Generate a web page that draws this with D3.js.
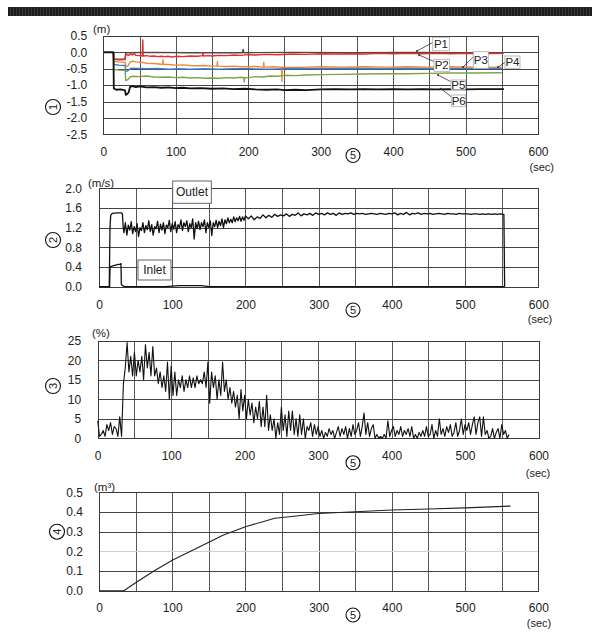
<!DOCTYPE html>
<html><head><meta charset="utf-8">
<script src="https://cdn.jsdelivr.net/npm/d3@7"></script>
<style>
body{margin:0;background:#fff}
svg{display:block}
text{font-family:"Liberation Sans",Arial,Helvetica,sans-serif;fill:#222}
</style>
</head><body>
<svg id="c" width="592" height="635"></svg>
<script>
// ---------- data ----------
// shared time ticks (sec)
const xTickLabels = [0, 100, 200, 300, 400, 500, 600];

// (1) water level at gauges P1..P6, [t, m]
const levelP1 = [[0,0],[14,0],[14.5,-0.2],[30,-0.21],[31,-0.01],[60,0],[120,-0.01],[192,-0.01],[193,0.09],[194,-0.01],[260,0],[340,-0.01],[420,0],[500,-0.01],[553,-0.01]];
const levelP2 = [[0,0],[14,0],[14.5,-0.21],[22,-0.23],[30,-0.22],[31,-0.06],[35,-0.09],[38,-0.04],[40,-0.08],[43,-0.03],[45,-0.09],[50,-0.1],[54,-0.11],[54.5,0.38],[55,-0.11],[60,-0.1],[65,-0.12],[70,-0.11],[75,-0.13],[80,-0.12],[85,-0.13],[90,-0.12],[95,-0.14],[100,-0.12],[110,-0.13],[120,-0.11],[130,-0.12],[137,-0.1],[137.5,0.0],[138,-0.11],[145,-0.1],[150,-0.11],[160,-0.09],[170,-0.1],[180,-0.08],[190,-0.09],[200,-0.07],[210,-0.08],[225,-0.06],[240,-0.07],[260,-0.05],[280,-0.06],[300,-0.04],[320,-0.05],[340,-0.04],[360,-0.05],[380,-0.03],[400,-0.04],[420,-0.03],[440,-0.04],[460,-0.03],[480,-0.04],[500,-0.03],[520,-0.04],[552,-0.03]];
const levelP3 = [[0,0],[14,0],[14.5,-0.27],[22,-0.29],[30,-0.3],[31,-0.43],[34,-0.41],[37,-0.3],[40,-0.27],[45,-0.29],[50,-0.3],[55,-0.31],[60,-0.33],[70,-0.34],[80,-0.36],[82,-0.36],[82.5,-0.22],[83,-0.36],[90,-0.37],[100,-0.39],[110,-0.38],[120,-0.4],[130,-0.41],[140,-0.4],[150,-0.42],[157,-0.42],[157.5,-0.28],[158,-0.42],[170,-0.43],[180,-0.42],[190,-0.44],[200,-0.44],[210,-0.43],[221,-0.45],[221.5,-0.3],[222,-0.45],[235,-0.44],[246,-0.45],[246.5,-0.88],[247,-0.45],[260,-0.46],[280,-0.45],[300,-0.44],[330,-0.45],[360,-0.44],[390,-0.45],[420,-0.44],[450,-0.45],[480,-0.44],[510,-0.45],[550,-0.45]];
const levelP4 = [[0,0],[14,0],[14.5,-0.37],[22,-0.39],[30,-0.4],[31,-0.58],[34,-0.56],[37,-0.5],[40,-0.48],[50,-0.49],[60,-0.5],[75,-0.49],[90,-0.51],[105,-0.5],[120,-0.51],[140,-0.5],[160,-0.51],[180,-0.5],[200,-0.5],[230,-0.51],[260,-0.49],[300,-0.5],[340,-0.49],[380,-0.5],[420,-0.49],[460,-0.5],[500,-0.49],[550,-0.49]];
const levelP5 = [[0,0],[14,0],[14.5,-0.52],[22,-0.54],[30,-0.55],[31,-0.86],[34,-0.83],[37,-0.75],[40,-0.73],[50,-0.74],[60,-0.72],[70,-0.75],[80,-0.76],[90,-0.75],[100,-0.77],[110,-0.76],[120,-0.78],[130,-0.77],[140,-0.79],[150,-0.78],[160,-0.79],[170,-0.77],[180,-0.78],[190,-0.76],[194,-0.77],[194.5,-0.9],[195,-0.77],[200,-0.77],[210,-0.74],[220,-0.75],[230,-0.72],[240,-0.73],[250,-0.7],[265,-0.71],[280,-0.69],[300,-0.68],[330,-0.67],[360,-0.66],[390,-0.65],[420,-0.65],[450,-0.64],[480,-0.63],[510,-0.63],[550,-0.62]];
const levelP6 = [[0,0],[14,0],[14.5,-1.1],[18,-1.14],[24,-1.13],[30,-1.16],[31,-1.3],[33,-1.27],[35,-1.22],[37,-1.05],[40,-1.03],[45,-1.06],[50,-1.04],[60,-1.07],[70,-1.06],[80,-1.08],[90,-1.07],[100,-1.09],[110,-1.08],[120,-1.1],[135,-1.09],[150,-1.11],[165,-1.1],[180,-1.12],[195,-1.11],[210,-1.13],[225,-1.14],[240,-1.13],[250,-1.15],[265,-1.14],[280,-1.15],[300,-1.13],[320,-1.12],[340,-1.13],[360,-1.12],[380,-1.13],[400,-1.12],[420,-1.13],[440,-1.12],[460,-1.13],[480,-1.12],[500,-1.13],[520,-1.12],[553,-1.12]];
const levelNames = ["P1","P2","P3","P4","P5","P6"];
const levelColors = ["#4a4a4a","#ee2a24","#f0893a","#3f7fcf","#7fa446","#111111"];

// (2) flow velocity (m/s)
const outletHead = [[0,0],[14,0],[15,1.2],[16,1.45],[18,1.49],[25,1.5],[31,1.5],[32,1.47],[33,1.22]];
const outletNoisyStart = 34, outletNoisyStep = 2;
const outletNoisy = [1.10,1.30,1.05,1.25,1.15,1.32,1.08,1.22,1.12,1.28,1.02,1.20,1.14,1.30,1.10,1.24,1.16,1.34,1.12,1.26,1.05,1.22,1.18,1.33,1.10,1.27,1.15,1.30,1.08,1.25,1.20,1.35,1.12,1.28,1.17,1.32,1.10,1.26,1.20,1.36,1.14,1.30,1.22,1.34,1.12,1.28,1.20,1.38,0.97,1.30,1.18,1.33,1.16,1.30,1.22,1.36,1.10,1.30,1.20,1.34,1.04,1.30,1.22,1.35,1.20,1.33,1.24,1.38,1.20,1.36,1.28,1.40,1.30,1.37,1.30,1.42,1.32,1.40,1.34,1.43,1.33,1.42,1.35,1.44];
const outletSteadyStart = 204, outletSteadyStep = 4;
const outletSteady = [1.38,1.44,1.36,1.42,1.39,1.46,1.40,1.45,1.41,1.47,1.43,1.46,
  1.44,1.48,1.43,1.47,1.45,1.50,1.44,1.48,1.46,1.49,1.45,1.50,1.47,
  1.49,1.46,1.50,1.47,1.49,1.45,1.50,1.47,1.49,1.48,1.50,1.47,
  1.49,1.48,1.49,1.47,1.48,1.49,1.48,1.47,1.49,1.48,1.47,1.49,1.48,
  1.50,1.46,1.49,1.47,1.51,1.46,1.49,1.48,1.50,1.47,1.49,1.48,
  1.49,1.47,1.48,1.49,1.48,1.47,1.49,1.48,1.48,1.47,1.49,1.48,1.48,
  1.48,1.47,1.48,1.48,1.47,1.48,1.47,1.48,1.47,1.48,1.47,1.48,1.47];
const outletTail = [[553,1.47],[554,0]];
const inletVelocity = [[0,0],[14.5,0],[15,0.39],[16,0.41],[20,0.43],[25,0.45],[29,0.46],[30,0.47],[30.5,0.05],[32,0.02],[35,0],[90,0],[100,0.01],[110,0.02],[140,0.02],[150,0],[554,0]];

// (3) percentage, sampled every 2.5 s from t = 0
const pctStep = 2.5;
const pctValues = [4.5,0.5,1,2,0.5,3.5,2,4,1,3,2.5,0.5,5.5,0.5,
  14,18,24.5,17,21,16,22,16,20,17,21,15,24,18,22,16,23.5,16,18,14,17,13,16,12,19.5,10,
  18.5,11,17,11,15,13,16,12,15,13,16,13,15.5,13,16,14,15,14,17,13,19.5,9,17,13,16,10,15,11,19.5,12,
  15,10,13,9,12,8,11,5,12.5,7,11,5,10,6,9,4,8,5,9.5,3,8,3,11,2,6,2,5,0,4,1,
  8,2,6,0.5,7,2,7,1,5,0.5,6,1,5,0,3,2,4,0.5,3.5,1,
  3,0.5,2,0,1.5,0.5,2.5,1,2,0,1.5,3,0.5,2.5,1,3,0,2.5,0.5,3.5,1,2,4,0.5,3,6.5,1,4,0.5,2.5,3.5,0,1,0,0.5,0,1,0,4.5,0.5,
  2,3,0.5,2,1,3,0.5,2,1,2.5,0.5,3,0,1,0,1.5,0.5,2,0.5,3,0.5,1,3.5,0,2,0.5,5,1,2.5,0.5,3,1.5,3.5,0.5,1.5,4,0.5,2,5,1,
  3.5,2,4,1,3.5,5.5,1,4,5.5,0.5,5.5,1,2,0,0.5,2.5,0,1.5,2.5,0,3.5,1,2,0,1];

// (4) cumulative volume (m3)
const volume = [[0,0],[34,0],[50,0.04],[75,0.1],[100,0.155],[125,0.2],[150,0.246],[170,0.283],[200,0.325],[225,0.352],[240,0.368],[260,0.376],[300,0.392],[350,0.401],[400,0.41],[450,0.415],[500,0.421],[562,0.43]];

// ---------- layout ----------
const panels = [
  {left:103.3,right:538,top:36,bottom:134.3,y:[-2.5,0.5],step:0.5,dec:1,pad:16,unit:"(m)",ux:93,uy:33,
   num:"1",cx:53,cy:107,fx:353,fy:155.5,sx:541.7,sy:167,lx:17.5},
  {left:99,right:538.3,top:188.3,bottom:286.7,y:[0,2],step:0.4,dec:1,pad:17,unit:"(m/s)",ux:88,uy:186.5,
   num:"2",cx:53,cy:240,fx:353,fy:310,sx:540,sy:319.5,lx:18.3},
  {left:97.7,right:538.5,top:340.7,bottom:438.3,y:[0,25],step:5,dec:0,pad:16.5,unit:"(%)",ux:92,uy:337,
   num:"3",cx:53,cy:386,fx:353,fy:462.7,sx:538,sy:473,lx:17.7},
  {left:99,right:538.3,top:492.3,bottom:590.7,y:[0,0.5],step:0.1,dec:1,pad:16,unit:"(m\u00B3)",ux:94,uy:490.5,
   num:"4",cx:57,cy:531.7,fx:353,fy:615,sx:539,sy:623.5,lx:17.3,lightTick:0.2}
];

const svg = d3.select("#c");
const snap = v => Math.round(v) + 0.5;

// dark striped band across the top
svg.append("rect").attr("x",8).attr("y",7).attr("width",584).attr("height",9).attr("fill","#1d1d1d");
svg.append("g").selectAll("line").data(d3.range(10,592,3)).join("line")
  .attr("x1",d=>d+0.5).attr("x2",d=>d+0.5).attr("y1",7).attr("y2",16)
  .attr("stroke","#383838").attr("stroke-width",1);

function circled(x, y, txt, rot, r) {
  const g = svg.append("g").attr("transform",`translate(${x},${y}) rotate(${rot})`);
  g.append("circle").attr("r",r).attr("fill","none").attr("stroke","#111").attr("stroke-width",1.1);
  g.append("text").attr("text-anchor","middle").attr("dy","0.36em").style("font-size","11px").text(txt);
}

panels.forEach(p => {
  p.xs = d3.scaleLinear().domain([0,600]).range([p.left,p.right]);
  p.ys = d3.scaleLinear().domain(p.y).range([p.bottom,p.top]);
  const yt = d3.range(0, Math.round((p.y[1]-p.y[0])/p.step)+1).map(i => +(p.y[0]+i*p.step).toFixed(4));
  const g = svg.append("g");
  // grid
  const gl = g.append("g").attr("shape-rendering","crispEdges");
  gl.selectAll("line.v").data(d3.range(50,600,50)).join("line").attr("class","v")
    .attr("x1",d=>snap(p.xs(d))).attr("x2",d=>snap(p.xs(d))).attr("y1",snap(p.top)).attr("y2",snap(p.bottom))
    .attr("stroke","#555").attr("stroke-width",1);
  gl.selectAll("line.h").data(yt.slice(1,-1)).join("line").attr("class","h")
    .attr("x1",snap(p.left)).attr("x2",snap(p.right)).attr("y1",d=>snap(p.ys(d))).attr("y2",d=>snap(p.ys(d)))
    .attr("stroke",d=>(p.lightTick!==undefined && Math.abs(d-p.lightTick)<1e-6)?"#d0d0d0":"#444")
    .attr("stroke-width",1);
  gl.append("rect").attr("x",snap(p.left)).attr("y",snap(p.top))
    .attr("width",snap(p.right)-snap(p.left)).attr("height",snap(p.bottom)-snap(p.top))
    .attr("fill","none").attr("stroke","#3a3a3a").attr("stroke-width",1);
  // axes labels
  const ya = d3.axisLeft(p.ys).tickValues(yt).tickSize(0).tickPadding(p.pad)
    .tickFormat(d => d.toFixed(p.dec));
  const yg = g.append("g").attr("transform",`translate(${p.left},0)`).call(ya);
  yg.select(".domain").remove();
  yg.selectAll("text").style("font-size","12px").attr("fill","#222").style("font-family",'"Liberation Sans",Arial,sans-serif');
  const xa = d3.axisBottom(p.xs).tickValues(xTickLabels).tickSize(0).tickFormat(d3.format("d"));
  const xg = g.append("g").attr("transform",`translate(0,${p.bottom})`).call(xa);
  xg.select(".domain").remove();
  xg.selectAll("text").attr("y",p.lx).attr("dy","0.36em").style("font-size","12px").attr("fill","#222")
    .style("font-family",'"Liberation Sans",Arial,sans-serif');
  // units & markers
  g.append("text").attr("x",p.ux).attr("y",p.uy).style("font-size","11.5px").text(p.unit);
  g.append("text").attr("x",p.sx).attr("y",p.sy).attr("text-anchor","middle").attr("dy","0.36em")
    .style("font-size","11px").text("(sec)");
  circled(p.cx, p.cy, p.num, -90, 7.5);
  circled(p.fx, p.fy, "5", 0, 7);
});

function drawLine(p, data, color, width) {
  const line = d3.line().x(d=>p.xs(d[0])).y(d=>p.ys(d[1]));
  svg.append("path").datum(data).attr("d",line).attr("fill","none")
    .attr("stroke",color).attr("stroke-width",width).attr("stroke-linejoin","round");
}

// (1) levels
const P1 = panels[0];
[levelP1,levelP2,levelP3,levelP4,levelP5,levelP6].forEach((s,i) => {
  drawLine(P1, s, levelColors[i], i===5 ? 1.8 : 1.4);
});
// gauge labels with leaders
const levelLabelLayout = [
  {bx:432.7,by:37.3,w:16.6,h:13.4,l:[432.7,42.5,417,51]},
  {bx:434,by:59.3,w:15.5,h:12,l:[434,61.5,419,55]},
  {bx:473.3,by:51.7,w:15,h:16.6,l:[473.3,57,463,67]},
  {bx:505,by:56,w:15,h:12.3,l:[505,62.5,498,67]},
  {bx:451,by:80,w:14.7,h:9.5,l:[450.5,81.5,438,75]},
  {bx:451.7,by:95,w:14,h:11.7,l:[451.5,97,441,88.7]}
];
levelNames.forEach((n,i) => {
  const L = levelLabelLayout[i];
  svg.append("line").attr("x1",L.l[0]).attr("y1",L.l[1]).attr("x2",L.l[2]).attr("y2",L.l[3])
    .attr("stroke","#333").attr("stroke-width",0.8);
  svg.append("circle").attr("cx",L.l[2]).attr("cy",L.l[3]).attr("r",1).attr("fill","#333");
  svg.append("rect").attr("x",L.bx).attr("y",L.by).attr("width",L.w).attr("height",L.h)
    .attr("fill","#fff").attr("stroke","#aaa").attr("stroke-width",0.8);
  svg.append("text").attr("x",L.bx+L.w/2).attr("y",L.by+L.h/2).attr("dy","0.36em")
    .attr("text-anchor","middle").style("font-size","11.5px").text(n);
});

// (2) velocities
const P2 = panels[1];
const outletVelocity = outletHead
  .concat(outletNoisy.map((v,i)=>[outletNoisyStart+i*outletNoisyStep, v]))
  .concat(outletSteady.map((v,i)=>[outletSteadyStart+i*outletSteadyStep, v]))
  .concat(outletTail);
drawLine(P2, outletVelocity, "#111", 1.3);
drawLine(P2, inletVelocity, "#111", 1.3);
[{t:"Outlet",x:172.7,y:181,w:38.6,h:22.3},{t:"Inlet",x:138,y:260,w:33,h:20}].forEach(b => {
  svg.append("rect").attr("x",b.x).attr("y",b.y).attr("width",b.w).attr("height",b.h)
    .attr("fill","#fff").attr("stroke","#555").attr("stroke-width",0.9);
  svg.append("text").attr("x",b.x+b.w/2).attr("y",b.y+b.h/2).attr("dy","0.36em")
    .attr("text-anchor","middle").style("font-size","12px").text(b.t);
});

// (3) percentage
const P3 = panels[2];
drawLine(P3, pctValues.map((v,i)=>[i*pctStep, v]), "#111", 1.1);

// (4) cumulative volume
const P4 = panels[3];
drawLine(P4, volume, "#222", 1.1);
</script>
</body></html>
